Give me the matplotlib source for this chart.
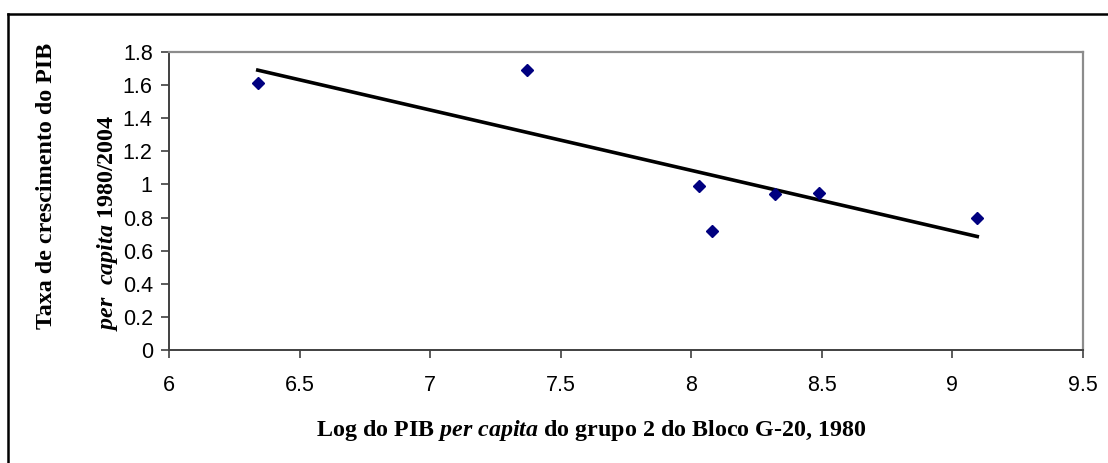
import numpy as np
import matplotlib
matplotlib.use('Agg')
import matplotlib.pyplot as plt
from matplotlib.lines import Line2D

# data
log_pib = [6.34, 7.37, 8.03, 8.08, 8.32, 8.49, 9.095]
taxa = [1.61, 1.69, 0.99, 0.72, 0.94, 0.95, 0.795]
xticks = [6, 6.5, 7, 7.5, 8, 8.5, 9, 9.5]
xtick_labels = ['6', '6.5', '7', '7.5', '8', '8.5', '9', '9.5']
yticks = [0, 0.2, 0.4, 0.6, 0.8, 1, 1.2, 1.4, 1.6, 1.8]
ytick_labels = ['0', '0.2', '0.4', '0.6', '0.8', '1', '1.2', '1.4', '1.6', '1.8']

plt.rcParams['mathtext.fontset'] = 'custom'
plt.rcParams['mathtext.rm'] = 'Liberation Serif:bold'
plt.rcParams['mathtext.it'] = 'Liberation Serif:italic:bold'

W, H = 1108, 463
fig = plt.figure(figsize=(W / 100, H / 100), dpi=100)
fig.patch.set_facecolor('white')

ax = fig.add_axes([169 / W, 1 - 350 / H, 914 / W, 298 / H])

# Excel style linear trend line
slope, icpt = np.polyfit(log_pib, taxa, 1)
xs = np.array([min(log_pib), max(log_pib)])
ax.plot(xs, slope * xs + icpt, color='black', linewidth=2.6, zorder=2)
ax.plot(log_pib, taxa, linestyle='none', marker='D', markersize=6.5,
        color='#000080', zorder=3)

ax.set_xlim(6, 9.5)
ax.set_ylim(0, 1.8)
ax.set_xticks(xticks)
ax.set_xticklabels(xtick_labels)
ax.set_yticks(yticks)
ax.set_yticklabels(ytick_labels)
ax.tick_params(axis='both', direction='out', length=5.5, width=1.2, color='#404040',
               labelsize=15.5, labelfontfamily='Liberation Sans')
ax.tick_params(axis='x', pad=12.5)
ax.tick_params(axis='y', pad=6.2)

for side in ['left', 'bottom']:
    ax.spines[side].set_color('#404040')
    ax.spines[side].set_linewidth(1.4)
for side in ['top', 'right']:
    ax.spines[side].set_color('#8c8c8c')
    ax.spines[side].set_linewidth(1.6)

# axis titles (bold Times-like, italic "per capita")
fs_title = 17.3
fig.text(591 / W, 1 - 436 / H,
         r'Log do PIB $\mathit{per\ capita}$ do grupo 2 do Bloco G-20, 1980',
         family='Liberation Serif', weight='bold', fontsize=fs_title,
         ha='center', va='baseline')
fig.text(47 / W, 1 - 329 / H, 'Taxa de crescimento do PIB',
         family='Liberation Serif', weight='bold', fontsize=fs_title,
         rotation=90, ha='center', va='bottom')
fig.text(108 / W, 1 - 331 / H, r'$\mathit{per\ \ capita}$ 1980/2004',
         family='Liberation Serif', weight='bold', fontsize=fs_title,
         rotation=90, ha='center', va='bottom')

# outer chart border (only top and left visible)
fig.add_artist(Line2D([7.5 / W, 7.5 / W], [0, 1 - 14 / H], color='black', linewidth=1.8))
fig.add_artist(Line2D([7.5 / W, 1], [1 - 14 / H, 1 - 14 / H], color='black', linewidth=1.8))

fig.savefig('out.png', dpi=100, facecolor='white')
